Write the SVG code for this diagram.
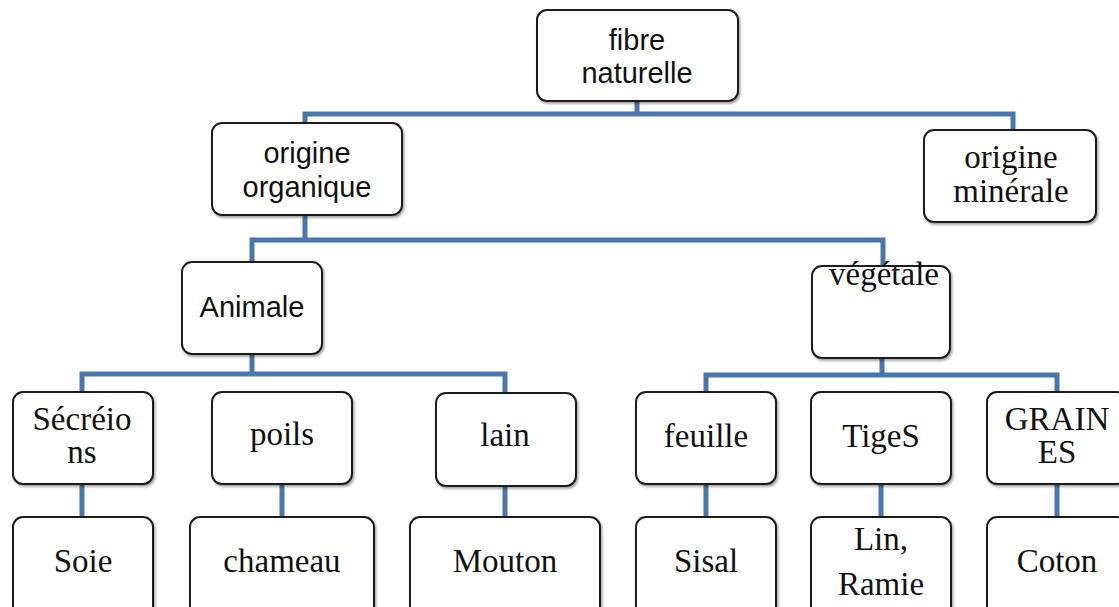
<svg xmlns="http://www.w3.org/2000/svg" width="1119" height="607" viewBox="0 0 1119 607">
<defs>
<filter id="sh" x="-10%" y="-10%" width="130%" height="130%">
<feDropShadow dx="1.5" dy="2" stdDeviation="1.2" flood-color="#000" flood-opacity="0.35"/>
</filter>
<style>
.box{fill:#fff;stroke:#1e1e1e;stroke-width:2;filter:url(#sh)}
.c{fill:none;stroke:#4a76b0;stroke-width:5;stroke-linejoin:miter}
.s{font-family:"Liberation Sans",Arial,sans-serif;font-size:29px;fill:#111;text-anchor:middle}
.t{font-family:"Liberation Serif","Times New Roman",serif;font-size:33px;fill:#111;text-anchor:middle}
</style>
</defs>
<rect width="1119" height="607" fill="#fff"/>
<g id="connectors">
<path class="c" d="M637 101V114M305 123V114H1013V130"/>
<path class="c" d="M305 215V240M252 262V240H883V266"/>
<path class="c" d="M252 354V374M82 392V374H505V393"/>
<path class="c" d="M882 358V375M706 392V375H1057V392"/>
<path class="c" d="M82 484V517M282 484V517M505 486V517M706 484V517M881 484V517M1057 484V517"/>
</g>
<g id="fibre"><rect class="box" x="537" y="10" width="201" height="91" rx="10"/><text class="s" x="637" y="50">fibre</text><text class="s" x="637" y="83">naturelle</text></g>
<g id="organique"><rect class="box" x="212" y="123" width="190" height="92" rx="10"/><text class="s" x="307" y="163">origine</text><text class="s" x="307" y="197">organique</text></g>
<g id="minerale"><rect class="box" x="924" y="130" width="172" height="92" rx="10"/><text class="t" x="1011" y="168">origine</text><text class="t" x="1011" y="202">minérale</text></g>
<g id="animale"><rect class="box" x="182" y="262" width="140" height="92" rx="10"/><text class="s" x="252" y="317">Animale</text></g>
<g id="vegetale"><rect class="box" x="812" y="266" width="138" height="92" rx="10"/><text class="t" x="884" y="285">végétale</text></g>
<g id="secreions"><rect class="box" x="13" y="392" width="140" height="92" rx="10"/><text class="t" x="82" y="430">Sécréio</text><text class="t" x="82" y="463">ns</text></g>
<g id="poils"><rect class="box" x="212" y="392" width="140" height="92" rx="10"/><text class="t" x="282" y="445">poils</text></g>
<g id="lain"><rect class="box" x="436" y="393" width="140" height="93" rx="10"/><text class="t" x="505" y="446">lain</text></g>
<g id="feuille"><rect class="box" x="636" y="392" width="140" height="92" rx="10"/><text class="t" x="706" y="447">feuille</text></g>
<g id="tiges"><rect class="box" x="811" y="392" width="140" height="92" rx="10"/><text class="t" x="881" y="447">TigeS</text></g>
<g id="graines"><rect class="box" x="987" y="392" width="140" height="92" rx="10"/><text class="t" x="1057" y="430">GRAIN</text><text class="t" x="1057" y="463">ES</text></g>
<g id="soie"><rect class="box" x="13" y="517" width="140" height="100" rx="10"/><text class="t" x="83" y="572">Soie</text></g>
<g id="chameau"><rect class="box" x="190" y="517" width="184" height="100" rx="10"/><text class="t" x="282" y="572">chameau</text></g>
<g id="mouton"><rect class="box" x="410" y="517" width="190" height="100" rx="10"/><text class="t" x="505" y="572">Mouton</text></g>
<g id="sisal"><rect class="box" x="636" y="517" width="140" height="100" rx="10"/><text class="t" x="706" y="572">Sisal</text></g>
<g id="lin"><rect class="box" x="811" y="517" width="140" height="100" rx="10"/><text class="t" x="881" y="550">Lin,</text><text class="t" x="881" y="595">Ramie</text></g>
<g id="coton"><rect class="box" x="987" y="517" width="140" height="100" rx="10"/><text class="t" x="1057" y="572">Coton</text></g>
</svg>
